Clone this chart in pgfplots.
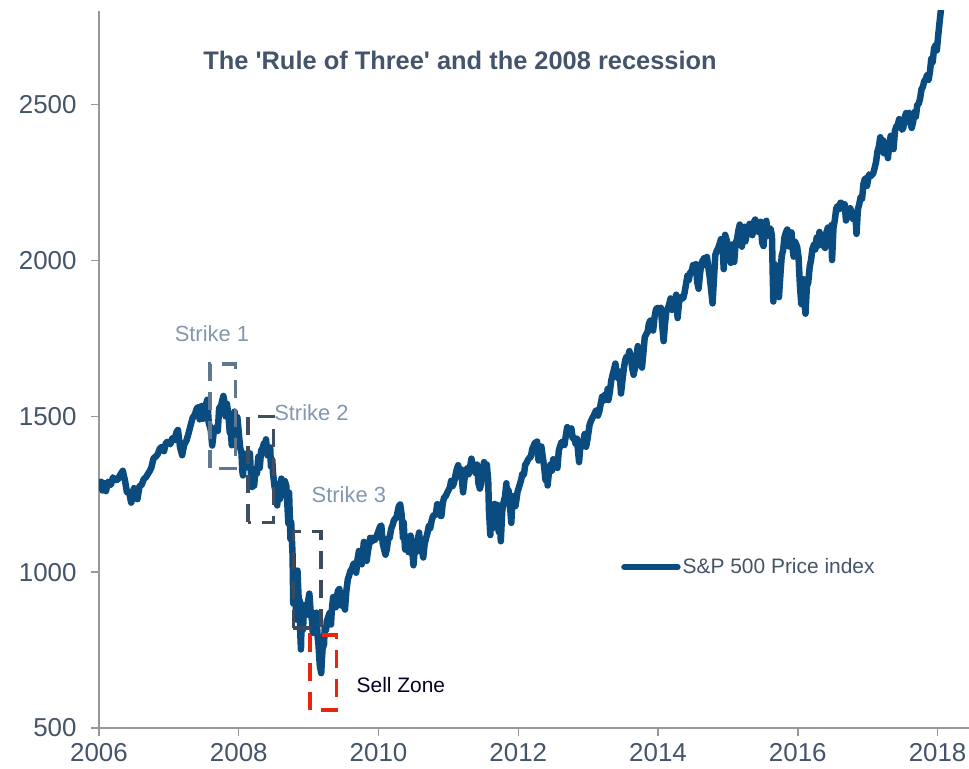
\documentclass[border=0pt]{standalone}
\usepackage{fontspec}
\setmainfont{Liberation Sans}
\usepackage{pgfplots}
\pgfplotsset{compat=1.18}
\definecolor{spblue}{HTML}{0A4B80}
\definecolor{slate}{HTML}{44546A}
\definecolor{strikelbl}{HTML}{8497B0}
\definecolor{box1}{HTML}{5F7790}
\definecolor{box2}{HTML}{3F4F60}
\definecolor{box3}{HTML}{3D4A59}
\definecolor{sellred}{HTML}{E8260E}
\definecolor{axgray}{HTML}{989898}

\begin{document}
\begin{tikzpicture}
\useasboundingbox (-99bp,-41bp) rectangle (870bp,728bp);
\begin{axis}[
  at={(0,0)}, anchor=south west,
  scale only axis, width=870bp, height=717bp,
  xmin=2006, xmax=2018.45, ymin=500, ymax=2800,
  axis x line=bottom, axis y line=left,
  axis line style={axgray, line width=1.4bp, -},
  xtick={2006,2008,...,2018}, ytick={500,1000,...,2500},
  tick style={axgray, line width=1.4bp},
  tick align=outside, major tick length=8bp,
  /pgf/number format/1000 sep={},
  /pgf/number format/assume math mode=true,
  tick label style={font=\fontsize{26}{30}\selectfont, text=slate},
  xticklabel style={yshift=-6bp, inner ysep=1bp},
  yticklabel style={xshift=-11bp},
  legend style={draw=none, fill=none, at={(0.60,0.2245)}, anchor=west,
    font=\fontsize{21}{25}\selectfont, text=slate, inner sep=0pt,
    /tikz/every even column/.append style={column sep=0pt}},
  legend cell align=left,
  legend image code/.code={\draw[#1, line cap=round] (0bp,0bp) -- (53bp,0bp);},
]
\addplot[spblue, line width=6.5bp, line join=round] table {
x y
2006.00 1268
2006.03 1290
2006.05 1262
2006.08 1285
2006.10 1260
2006.13 1290
2006.17 1280
2006.20 1304
2006.23 1295
2006.27 1297
2006.30 1311
2006.34 1325
2006.37 1296
2006.40 1256
2006.43 1258
2006.46 1223
2006.49 1246
2006.50 1270
2006.53 1265
2006.55 1234
2006.58 1276
2006.61 1280
2006.64 1298
2006.67 1304
2006.70 1315
2006.73 1326
2006.75 1336
2006.78 1365
2006.81 1370
2006.84 1378
2006.87 1396
2006.90 1402
2006.93 1388
2006.96 1416
2006.99 1418
2007.02 1410
2007.05 1430
2007.08 1423
2007.11 1450
2007.13 1456
2007.16 1400
2007.19 1375
2007.22 1410
2007.25 1421
2007.28 1444
2007.31 1470
2007.34 1495
2007.37 1505
2007.40 1525
2007.42 1530
2007.44 1490
2007.47 1533
2007.49 1492
2007.52 1530
2007.55 1553
2007.57 1480
2007.60 1455
2007.62 1406
2007.64 1445
2007.67 1465
2007.70 1453
2007.72 1528
2007.74 1525
2007.76 1547
2007.78 1565
2007.80 1540
2007.81 1500
2007.83 1540
2007.85 1509
2007.87 1450
2007.89 1440
2007.90 1407
2007.92 1481
2007.94 1515
2007.96 1445
2007.98 1497
2008.00 1447
2008.02 1400
2008.04 1380
2008.05 1325
2008.06 1310
2008.08 1380
2008.10 1336
2008.12 1349
2008.14 1340
2008.16 1381
2008.17 1331
2008.19 1273
2008.21 1330
2008.22 1277
2008.24 1330
2008.26 1316
2008.28 1370
2008.30 1334
2008.32 1390
2008.34 1397
2008.36 1413
2008.38 1390
2008.39 1426
2008.41 1375
2008.43 1385
2008.45 1400
2008.46 1339
2008.48 1360
2008.49 1318
2008.51 1278
2008.53 1252
2008.55 1214
2008.57 1284
2008.59 1234
2008.61 1300
2008.63 1278
2008.65 1266
2008.66 1292
2008.68 1277
2008.69 1240
2008.71 1156
2008.72 1255
2008.74 1106
2008.75 1161
2008.77 1056
2008.78 899
2008.79 1003
2008.80 907
2008.81 946
2008.82 848
2008.83 968
2008.84 1005
2008.86 899
2008.87 911
2008.88 806
2008.89 752
2008.90 851
2008.91 896
2008.92 816
2008.93 876
2008.95 888
2008.97 863
2008.99 903
2009.01 931
2009.03 870
2009.05 843
2009.06 805
2009.07 850
2009.08 825
2009.10 845
2009.11 870
2009.12 827
2009.13 790
2009.14 770
2009.15 735
2009.16 700
2009.18 676
2009.19 721
2009.20 756
2009.22 768
2009.23 822
2009.25 815
2009.26 843
2009.28 856
2009.30 869
2009.32 832
2009.33 873
2009.35 920
2009.37 888
2009.39 887
2009.40 919
2009.42 940
2009.44 946
2009.46 893
2009.48 920
2009.50 898
2009.52 880
2009.54 940
2009.56 976
2009.58 990
2009.60 1005
2009.62 1010
2009.64 1026
2009.66 1028
2009.68 998
2009.70 1042
2009.72 1068
2009.74 1060
2009.76 1025
2009.78 1071
2009.79 1097
2009.81 1066
2009.83 1036
2009.85 1069
2009.87 1093
2009.88 1110
2009.90 1098
2009.92 1110
2009.94 1102
2009.96 1107
2009.99 1126
2010.02 1145
2010.04 1150
2010.06 1092
2010.08 1073
2010.10 1056
2010.12 1075
2010.14 1109
2010.16 1110
2010.18 1138
2010.20 1150
2010.22 1166
2010.24 1172
2010.26 1178
2010.27 1190
2010.29 1211
2010.31 1217
2010.33 1186
2010.35 1110
2010.36 1160
2010.38 1072
2010.40 1074
2010.41 1090
2010.43 1064
2010.44 1091
2010.46 1117
2010.48 1077
2010.50 1022
2010.52 1077
2010.54 1065
2010.56 1102
2010.58 1127
2010.60 1080
2010.62 1071
2010.64 1047
2010.66 1090
2010.68 1109
2010.70 1125
2010.72 1148
2010.74 1141
2010.76 1165
2010.78 1180
2010.80 1183
2010.82 1185
2010.84 1218
2010.86 1199
2010.88 1181
2010.90 1180
2010.92 1223
2010.94 1240
2010.96 1243
2010.99 1258
2011.02 1271
2011.04 1293
2011.06 1276
2011.08 1286
2011.10 1310
2011.12 1330
2011.14 1343
2011.16 1306
2011.18 1330
2011.19 1304
2011.21 1256
2011.23 1298
2011.25 1326
2011.27 1333
2011.29 1314
2011.31 1337
2011.33 1364
2011.35 1340
2011.37 1337
2011.39 1318
2011.41 1345
2011.43 1285
2011.45 1268
2011.47 1283
2011.49 1320
2011.51 1353
2011.53 1316
2011.55 1345
2011.57 1292
2011.58 1200
2011.60 1119
2011.61 1172
2011.63 1140
2011.65 1177
2011.66 1219
2011.68 1155
2011.70 1216
2011.72 1129
2011.74 1160
2011.75 1099
2011.77 1195
2011.79 1225
2011.81 1242
2011.83 1285
2011.84 1220
2011.86 1263
2011.88 1216
2011.90 1158
2011.92 1244
2011.94 1225
2011.96 1212
2011.99 1258
2012.02 1280
2012.04 1295
2012.06 1316
2012.08 1312
2012.10 1345
2012.12 1351
2012.14 1361
2012.16 1367
2012.18 1370
2012.20 1395
2012.22 1405
2012.24 1416
2012.26 1408
2012.27 1419
2012.29 1358
2012.31 1390
2012.33 1403
2012.35 1370
2012.37 1338
2012.39 1295
2012.41 1318
2012.42 1278
2012.44 1325
2012.46 1345
2012.48 1325
2012.50 1362
2012.52 1354
2012.54 1360
2012.56 1334
2012.58 1390
2012.60 1405
2012.62 1418
2012.64 1410
2012.66 1407
2012.68 1437
2012.70 1465
2012.72 1456
2012.74 1441
2012.76 1461
2012.78 1428
2012.80 1433
2012.82 1412
2012.84 1428
2012.86 1377
2012.87 1353
2012.89 1409
2012.91 1413
2012.93 1418
2012.95 1443
2012.97 1402
2012.99 1426
2013.02 1472
2013.04 1485
2013.06 1494
2013.08 1502
2013.10 1513
2013.12 1520
2013.14 1502
2013.16 1516
2013.18 1540
2013.20 1563
2013.22 1550
2013.24 1569
2013.26 1553
2013.28 1588
2013.29 1552
2013.31 1578
2013.33 1614
2013.35 1633
2013.37 1650
2013.39 1669
2013.41 1631
2013.43 1622
2013.45 1643
2013.47 1573
2013.49 1614
2013.51 1652
2013.53 1680
2013.55 1692
2013.57 1685
2013.59 1709
2013.61 1691
2013.63 1655
2013.65 1633
2013.67 1655
2013.69 1688
2013.71 1725
2013.73 1692
2013.75 1676
2013.77 1656
2013.79 1703
2013.81 1754
2013.83 1763
2013.85 1770
2013.87 1798
2013.89 1807
2013.91 1806
2013.93 1775
2013.95 1818
2013.97 1842
2013.99 1848
2014.02 1831
2014.04 1848
2014.06 1790
2014.08 1741
2014.10 1797
2014.12 1839
2014.14 1845
2014.16 1860
2014.18 1878
2014.20 1841
2014.22 1872
2014.24 1857
2014.26 1890
2014.28 1815
2014.30 1864
2014.32 1878
2014.34 1884
2014.36 1878
2014.38 1897
2014.40 1923
2014.42 1951
2014.44 1937
2014.46 1962
2014.48 1960
2014.50 1985
2014.52 1964
2014.54 1988
2014.56 1931
2014.58 1909
2014.60 1955
2014.62 1990
2014.64 2000
2014.66 2007
2014.68 1985
2014.70 2011
2014.72 1977
2014.74 1946
2014.76 1906
2014.78 1862
2014.80 1941
2014.82 2018
2014.84 2031
2014.86 2039
2014.88 2052
2014.90 2068
2014.92 2060
2014.94 1972
2014.96 2082
2014.99 2059
2015.01 2020
2015.03 2045
2015.04 1992
2015.06 2051
2015.08 2030
2015.09 1995
2015.11 2055
2015.13 2068
2015.15 2096
2015.17 2115
2015.18 2098
2015.20 2044
2015.22 2081
2015.24 2108
2015.25 2061
2015.27 2086
2015.29 2092
2015.31 2117
2015.33 2108
2015.35 2081
2015.37 2122
2015.39 2131
2015.41 2114
2015.43 2092
2015.45 2110
2015.47 2124
2015.49 2057
2015.51 2046
2015.53 2108
2015.55 2127
2015.57 2079
2015.59 2098
2015.61 2102
2015.63 2079
2015.64 1970
2015.65 1868
2015.67 1988
2015.69 1942
2015.71 1958
2015.73 1882
2015.75 1951
2015.77 2014
2015.79 2033
2015.81 2075
2015.83 2090
2015.85 2099
2015.87 2045
2015.89 2089
2015.91 2090
2015.92 2049
2015.94 2012
2015.96 2060
2015.99 2044
2016.01 2012
2016.03 1922
2016.04 1890
2016.05 1860
2016.07 1907
2016.08 1940
2016.09 1880
2016.11 1829
2016.13 1917
2016.15 1930
2016.17 1979
2016.19 2002
2016.21 2037
2016.23 2050
2016.25 2035
2016.27 2073
2016.29 2047
2016.31 2091
2016.33 2065
2016.35 2050
2016.37 2047
2016.39 2040
2016.41 2090
2016.43 2105
2016.45 2096
2016.47 2071
2016.48 2113
2016.49 2001
2016.51 2103
2016.53 2130
2016.55 2166
2016.57 2175
2016.59 2164
2016.61 2185
2016.63 2184
2016.65 2169
2016.67 2180
2016.69 2128
2016.71 2140
2016.73 2164
2016.75 2168
2016.77 2154
2016.79 2133
2016.81 2142
2016.83 2126
2016.84 2085
2016.86 2164
2016.88 2181
2016.90 2204
2016.92 2198
2016.94 2246
2016.96 2262
2016.98 2263
2016.99 2239
2017.02 2276
2017.04 2270
2017.06 2274
2017.08 2280
2017.10 2297
2017.12 2316
2017.14 2349
2017.16 2365
2017.18 2395
2017.20 2375
2017.22 2385
2017.23 2344
2017.25 2363
2017.27 2358
2017.29 2328
2017.31 2374
2017.33 2400
2017.35 2399
2017.37 2357
2017.39 2415
2017.41 2430
2017.43 2433
2017.45 2453
2017.47 2438
2017.49 2419
2017.51 2425
2017.53 2459
2017.55 2473
2017.57 2470
2017.59 2474
2017.61 2441
2017.63 2425
2017.65 2444
2017.67 2476
2017.69 2461
2017.71 2500
2017.73 2502
2017.75 2519
2017.77 2549
2017.79 2557
2017.81 2575
2017.83 2581
2017.85 2594
2017.87 2579
2017.89 2602
2017.91 2647
2017.93 2636
2017.95 2680
2017.97 2690
2017.99 2674
2018.01 2723
2018.03 2767
2018.04 2786
2018.05 2810
2018.06 2839
2018.07 2872
};
\addlegendentry{S\&P 500 Price index}

% annotation boxes
\draw[box1, line width=3.5bp, dash pattern=on 18bp off 11bp] (axis cs:2007.59,1333) rectangle (axis cs:2007.95,1667);
\draw[box2, line width=3.5bp, dash pattern=on 18bp off 11bp] (axis cs:2008.13,1160) rectangle (axis cs:2008.50,1500);
\draw[box3, line width=3.5bp, dash pattern=on 18bp off 11bp] (axis cs:2008.78,820) rectangle (axis cs:2009.18,1131);
\draw[sellred, line width=3.5bp, dash pattern=on 18bp off 11bp] (axis cs:2009.02,558) rectangle (axis cs:2009.40,798);

\node[font=\fontsize{22}{26}\selectfont, text=strikelbl] at (axis cs:2007.616,1766) {Strike 1};
\node[font=\fontsize{22}{26}\selectfont, text=strikelbl] at (axis cs:2009.04,1513) {Strike 2};
\node[font=\fontsize{22}{26}\selectfont, text=strikelbl] at (axis cs:2009.576,1250) {Strike 3};
\node[font=\fontsize{21}{25}\selectfont, text=black!85!blue] at (axis cs:2010.32,638) {Sell Zone};
\node[font=\bfseries\fontsize{25.5}{30}\selectfont, text=slate] at (rel axis cs:0.415,0.9317) {The \textquotesingle Rule of Three\textquotesingle{} and the 2008 recession};
\end{axis}
\end{tikzpicture}
\end{document}
